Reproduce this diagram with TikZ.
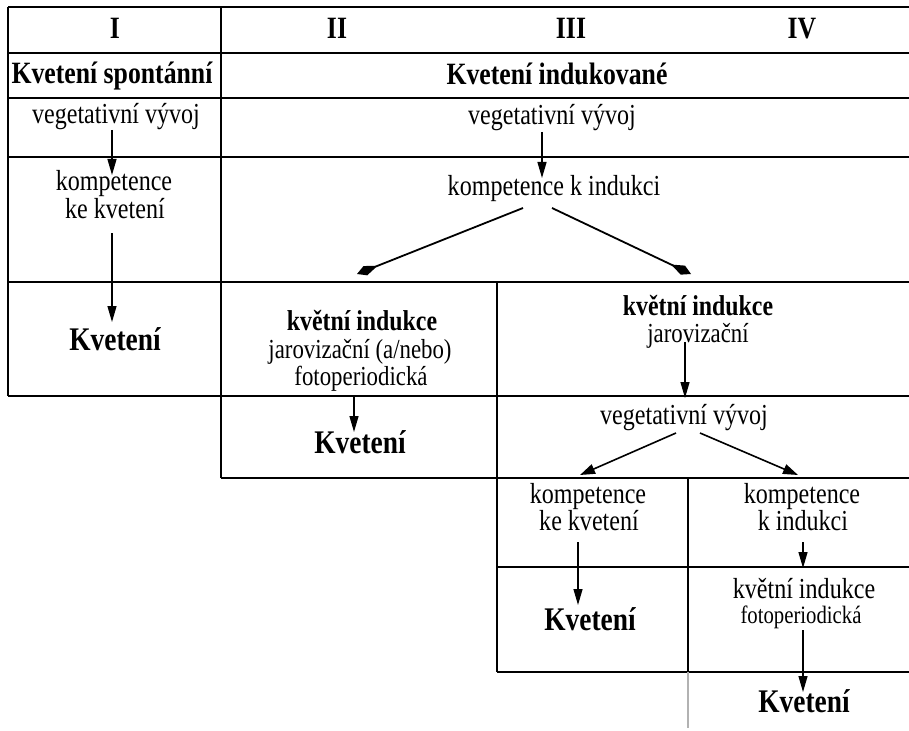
\documentclass[tikz,border=0pt]{standalone}
\usepackage{fontspec}
\setmainfont{Liberation Serif}[FakeStretch=0.83]
\usetikzlibrary{arrows.meta}

\tikzset{
  lbl/.style={inner sep=0pt, anchor=base},
  hdr/.style={lbl, font=\fontsize{31}{34}\selectfont\bfseries},
  txt/.style={lbl, font=\fontsize{29}{32}\selectfont},
  mid/.style={lbl, font=\fontsize{27.5}{30}\selectfont},
  sml/.style={lbl, font=\fontsize{25}{28}\selectfont},
  bld/.style={lbl, font=\fontsize{28.7}{32}\selectfont\bfseries},
  kvet/.style={lbl, font=\fontsize{33}{36}\selectfont\bfseries},
  grid/.style={line width=1.1pt},
  arr/.style={-{Triangle[length=16pt,width=9pt]}, line width=1.3pt},
  farr/.style={-{Kite[length=22pt,width=10pt,inset=13pt]}, line width=1.8pt},
  darr/.style={-{Triangle[length=15pt,width=10pt]}, line width=1.6pt},
}

\begin{document}
\begin{tikzpicture}[x=1pt, y=-1pt]
    \fill[white] (0,0) rectangle (909,730);
    \useasboundingbox (0,0) rectangle (909,730);

    % Table lines
    \draw[grid] (8,7) -- (909,7);
    \draw[grid] (8,53) -- (909,53);
    \draw[grid] (8,98) -- (909,98);
    \draw[grid] (8,157) -- (909,157);
    \draw[grid] (8,282) -- (909,282);
    \draw[grid] (8,396) -- (909,396);
    \draw[grid] (221,478) -- (909,478);
    \draw[grid] (497,567) -- (909,567);
    \draw[grid] (497,672) -- (909,672);
    \draw[grid] (8,7) -- (8,396);
    \draw[grid] (221,7) -- (221,478);
    \draw[grid] (497,282) -- (497,672);
    \draw[grid] (688,478) -- (688,672);
    \draw[grid, gray!60] (688,672) -- (688,728);

    % Column headings
    \node[hdr] (hI) at (115,39) {I};
    \node[hdr] (hII) at (337,39) {II};
    \node[hdr] (hIII) at (571,39) {III};
    \node[hdr] (hIV) at (802,39) {IV};
    \node[hdr] (spont) at (112,84) {Kvetení spontánní};
    \node[hdr] (indk) at (557,85) {Kvetení indukované};

    % Column I
    \node[txt] (veg1) at (116,124) {vegetativní vývoj};
    \node[txt] (komp1a) at (114,190) {kompetence};
    \node[txt] (komp1b) at (115,218) {ke kvetení};
    \node[kvet] (kv1) at (115,350) {Kvetení};

    % Columns II--IV
    \node[txt] (veg2) at (552,125) {vegetativní vývoj};
    \node[txt] (kompind) at (554,195) {kompetence k indukci};

    % Column II
    \node[bld] (kvind2) at (362,330) {květní indukce};
    \node[mid] (jar2) at (360,358) {jarovizační (a/nebo)};
    \node[mid] (foto2) at (361,385) {fotoperiodická};
    \node[kvet] (kv2) at (360,453) {Kvetení};

    % Columns III--IV
    \node[bld] (kvind3) at (698,315) {květní indukce};
    \node[mid] (jar3) at (698,342) {jarovizační};
    \node[txt] (veg3) at (684,424) {vegetativní vývoj};

    % Column III
    \node[txt] (komp3a) at (588,503) {kompetence};
    \node[txt] (komp3b) at (589,530) {ke kvetení};
    \node[kvet] (kv3) at (590,630) {Kvetení};

    % Column IV
    \node[txt] (komp4a) at (802,503) {kompetence};
    \node[txt] (komp4b) at (803,530) {k indukci};
    \node[txt] (kvind4) at (804,598) {květní indukce};
    \node[sml] (foto4) at (801,623) {fotoperiodická};
    \node[kvet] (kv4) at (804,712) {Kvetení};

    % Arrows
    \draw[arr] ([xshift=-4pt,yshift=-6pt]veg1.base) -- ([xshift=-2pt,yshift=15pt]komp1a.base);
    \draw[arr] ([xshift=-3pt,yshift=-15pt]komp1b.base) -- ([xshift=-3pt,yshift=28pt]kv1.base);
    \draw[arr] ([xshift=-10pt,yshift=-7pt]veg2.base) -- ([xshift=-12pt,yshift=17pt]kompind.base);
    \draw[farr] ([xshift=-31pt,yshift=-13pt]kompind.base) -- ([xshift=-5pt,yshift=56pt]kvind2.base);
    \draw[farr] ([xshift=-2pt,yshift=-13pt]kompind.base) -- ([xshift=-7pt,yshift=41pt]kvind3.base);
    \draw[arr] ([xshift=-7pt,yshift=-11pt]foto2.base) -- ([xshift=-6pt,yshift=21pt]kv2.base);
    \draw[arr] ([xshift=-13pt]jar3.base) -- ([xshift=1pt,yshift=26pt]veg3.base);
    \draw[darr] ([xshift=-8pt,yshift=-9pt]veg3.base) -- ([xshift=-8pt,yshift=28pt]komp3a.base);
    \draw[darr] ([xshift=16pt,yshift=-9pt]veg3.base) -- ([xshift=-4pt,yshift=28pt]komp4a.base);
    \draw[arr] ([xshift=-11pt,yshift=-12pt]komp3b.base) -- ([xshift=-12pt,yshift=25pt]kv3.base);
    \draw[arr] ([yshift=-12pt]komp4b.base) -- ([xshift=-1pt,yshift=30pt]kvind4.base);
    \draw[arr] ([xshift=2pt,yshift=-7pt]foto4.base) -- ([xshift=-1pt,yshift=20pt]kv4.base);
\end{tikzpicture}
\end{document}
